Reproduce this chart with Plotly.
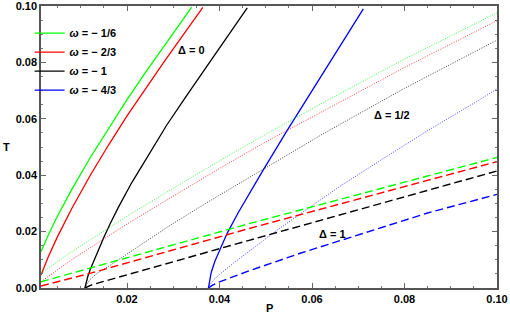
import plotly.graph_objects as go

# ---- data ----
omega_labels = ["<i>ω</i> = − 1/6", "<i>ω</i> = − 2/3", "<i>ω</i> = − 1", "<i>ω</i> = − 4/3"]
colors = ["#00ff00", "#ff0000", "#000000", "#0000ff"]

# Delta = 0 (solid)
P_d0_g = [0.0014, 0.003, 0.005, 0.008, 0.012, 0.016, 0.020, 0.024, 0.028, 0.032, 0.034]
T_d0_g = [0.0129, 0.0189, 0.0256, 0.0348, 0.0461, 0.0567, 0.0668, 0.0765, 0.0859, 0.0950, 0.0996]
P_d0_r = [0.0014, 0.003, 0.005, 0.008, 0.012, 0.016, 0.020, 0.024, 0.028, 0.032, 0.0364]
T_d0_r = [0.0046, 0.0112, 0.0183, 0.0280, 0.0398, 0.0507, 0.0610, 0.0708, 0.0802, 0.0894, 0.0995]
P_d0_k = [0.0109, 0.0111, 0.0115, 0.012, 0.013, 0.0137, 0.015, 0.0163, 0.0181, 0.021, 0.025, 0.0286, 0.033, 0.0408, 0.046]
T_d0_k = [0.0, 0.0018, 0.0040, 0.0064, 0.0103, 0.0135, 0.0180, 0.0226, 0.0285, 0.0373, 0.0483, 0.0578, 0.0685, 0.0870, 0.0993]
P_d0_b = [0.0376, 0.0378, 0.0382, 0.0390, 0.0400, 0.0416, 0.0440, 0.0464, 0.0495, 0.0546, 0.0596, 0.065, 0.0711]
T_d0_b = [0.0, 0.0025, 0.0055, 0.0095, 0.0135, 0.0192, 0.0266, 0.0335, 0.0420, 0.0558, 0.0690, 0.0832, 0.0990]

# Delta = 1/2 (dotted)
P_d1_g = [0.0014, 0.003, 0.005, 0.008, 0.012, 0.020, 0.0284, 0.0401, 0.050, 0.0617, 0.080, 0.100]
T_d1_g = [0.0052, 0.0072, 0.0094, 0.0128, 0.0170, 0.0255, 0.0338, 0.0452, 0.0545, 0.0651, 0.0812, 0.0976]
P_d1_r = [0.0014, 0.003, 0.005, 0.008, 0.0129, 0.020, 0.0284, 0.0401, 0.050, 0.0617, 0.080, 0.100]
T_d1_r = [0.0022, 0.0042, 0.0065, 0.0100, 0.0152, 0.0227, 0.0310, 0.0425, 0.0518, 0.0622, 0.0782, 0.0948]
P_d1_k = [0.0109, 0.0113, 0.012, 0.0135, 0.0163, 0.0192, 0.024, 0.0293, 0.038, 0.0455, 0.0488, 0.0617, 0.066, 0.080, 0.100]
T_d1_k = [0.0, 0.0014, 0.0030, 0.0052, 0.0080, 0.0111, 0.0165, 0.0222, 0.0310, 0.0383, 0.0416, 0.0540, 0.0580, 0.0708, 0.0879]
P_d1_b = [0.0376, 0.0380, 0.0388, 0.040, 0.043, 0.0466, 0.052, 0.060, 0.066, 0.0755, 0.0848, 0.096, 0.100]
T_d1_b = [0.0, 0.0014, 0.0030, 0.0048, 0.0088, 0.0132, 0.0200, 0.0292, 0.0360, 0.0460, 0.0556, 0.0665, 0.0706]

# Delta = 1 (dashed)
P_d2_g = [0.0014, 0.012, 0.0293, 0.0466, 0.066, 0.100]
T_d2_g = [0.0022, 0.0070, 0.0148, 0.0229, 0.0314, 0.0463]
P_d2_r = [0.0014, 0.012, 0.0466, 0.066, 0.100]
T_d2_r = [0.0007, 0.0052, 0.0212, 0.0298, 0.0448]
P_d2_k = [0.0109, 0.0125, 0.0466, 0.066, 0.100]
T_d2_k = [0.0, 0.0012, 0.0170, 0.0259, 0.0415]
P_d2_b = [0.0376, 0.0385, 0.040, 0.0466, 0.0576, 0.066, 0.0704, 0.085, 0.100]
T_d2_b = [0.0, 0.0010, 0.0022, 0.0062, 0.0124, 0.0168, 0.0192, 0.0266, 0.0332]

x_ticks = [0.02, 0.04, 0.06, 0.08, 0.10]
y_ticks = [0.00, 0.02, 0.04, 0.06, 0.08, 0.10]

delta_labels = ["Δ = 0", "Δ = 1/2", "Δ = 1"]
delta_pos_P = [0.034, 0.0774, 0.0645]
delta_pos_T = [0.0844, 0.0613, 0.0190]

solid = [(P_d0_g, T_d0_g), (P_d0_r, T_d0_r), (P_d0_k, T_d0_k), (P_d0_b, T_d0_b)]
dotted = [(P_d1_g, T_d1_g), (P_d1_r, T_d1_r), (P_d1_k, T_d1_k), (P_d1_b, T_d1_b)]
dashed = [(P_d2_g, T_d2_g), (P_d2_r, T_d2_r), (P_d2_k, T_d2_k), (P_d2_b, T_d2_b)]

fig = go.Figure()
for i, (px, ty) in enumerate(solid):
    fig.add_trace(go.Scatter(x=px, y=ty, mode="lines", name=omega_labels[i],
                             line=dict(color=colors[i], width=1.3)))
for i, (px, ty) in enumerate(dotted):
    fig.add_trace(go.Scatter(x=px, y=ty, mode="lines", showlegend=False,
                             line=dict(color=colors[i], width=1, dash="1px,1.5px"),
                             opacity=0.75))
for i, (px, ty) in enumerate(dashed):
    fig.add_trace(go.Scatter(x=px, y=ty, mode="lines", showlegend=False,
                             line=dict(color=colors[i], width=1.4, dash="8px,4px")))

for lab, xp, yp in zip(delta_labels, delta_pos_P, delta_pos_T):
    fig.add_annotation(x=xp, y=yp, text=lab, showarrow=False,
                       font=dict(family="Liberation Sans", size=11, color="black", weight="bold"))

fig.add_annotation(xref="paper", yref="paper", x=0.5, y=-0.043, yanchor="top",
                   text="P", showarrow=False,
                   font=dict(family="Liberation Sans", size=11, color="black", weight="bold"))
fig.add_annotation(xref="paper", yref="paper", x=-0.075, y=0.5, xanchor="center",
                   text="T", showarrow=False, textangle=0,
                   font=dict(family="Liberation Sans", size=11, color="black", weight="bold"))

axis_common = dict(showgrid=False, zeroline=False, showline=True, linecolor="#555555", linewidth=1.5,
                   mirror="allticks", ticks="inside", ticklen=5, tickcolor="#666666", tickwidth=1,
                   automargin=False, ticklabeloverflow="allow",
                   tickfont=dict(family="Liberation Sans", size=11, color="black", weight="bold"),
                   minor=dict(ticks="inside", ticklen=2.5, tickcolor="#777777", dtick=0.005, showgrid=False))

fig.update_xaxes(range=[0.0014, 0.1], tickvals=x_ticks, ticktext=[f"{v:.2f}" for v in x_ticks], **axis_common)
fig.update_yaxes(range=[0.0, 0.1], tickvals=y_ticks, ticktext=[f"{v:.2f}" for v in y_ticks], **axis_common)

fig.update_layout(
    width=510, height=321,
    margin=dict(l=41, r=13, t=6, b=33),
    plot_bgcolor="white", paper_bgcolor="white",
    showlegend=True,
    legend=dict(x=-0.025, y=0.955, xanchor="left", yanchor="top", bgcolor="rgba(0,0,0,0)",
                font=dict(family="Liberation Sans", size=11, color="black", weight="bold"),
                itemwidth=30, tracegroupgap=0),
)

fig.write_html("out.html", config={"displayModeBar": False},
               post_script="document.body.style.margin='0';document.body.style.padding='0';")
